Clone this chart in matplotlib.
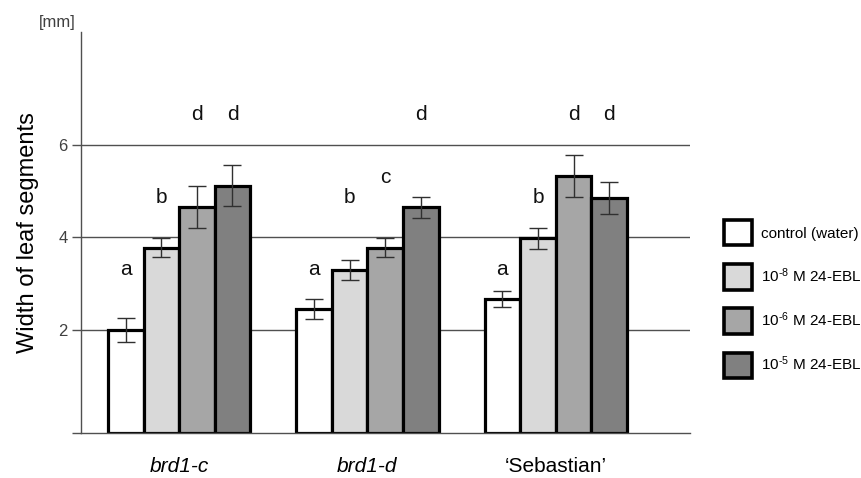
import numpy as np
import matplotlib
matplotlib.use("Agg")
import matplotlib.pyplot as plt
from matplotlib.patches import Patch

plt.rcParams["font.family"] = ["Liberation Sans", "DejaVu Sans"]
plt.rcParams["mathtext.fontset"] = "custom"
plt.rcParams["mathtext.rm"] = "Liberation Sans"
plt.rcParams["mathtext.it"] = "Liberation Sans:italic"

GRID = "#505050"

# ── data ──────────────────────────────────────────────────────────────────────
groups     = ["brd1-c", "brd1-d", "\u2018Sebastian\u2019"]
italic     = [True, True, False]
treatments = ["control (water)", "10$^{\u20108}$ M 24-EBL",
              "10$^{\u20106}$ M 24-EBL", "10$^{\u20105}$ M 24-EBL"]
colors     = ["#ffffff", "#d9d9d9", "#a6a6a6", "#808080"]

# mean width [mm] per treatment, one value per group
control = [2.00, 2.45, 2.67]
ebl_8   = [3.78, 3.30, 3.98]
ebl_6   = [4.66, 3.78, 5.33]
ebl_5   = [5.12, 4.65, 4.85]
means   = [control, ebl_8, ebl_6, ebl_5]

err_control = [0.25, 0.22, 0.17]
err_8       = [0.21, 0.22, 0.22]
err_6       = [0.45, 0.20, 0.46]
err_5       = [0.45, 0.22, 0.35]
errors      = [err_control, err_8, err_6, err_5]

# significance letters (per treatment, per group)
letters = [["a", "a", "a"],
           ["b", "b", "b"],
           ["d", "c", "d"],
           ["d", "d", "d"]]
letter_y = [[3.3, 3.3, 3.3],
            [4.86, 4.86, 4.86],
            [6.65, 5.3, 6.65],
            [6.65, 6.65, 6.65]]

Y_MIN, Y_MAX = -0.227, 8.44

# ── figure ────────────────────────────────────────────────────────────────────
fig = plt.figure(figsize=(8.62, 4.78), dpi=100)
ax = fig.add_axes([81 / 862, 45 / 478, (690 - 81) / 862, (433 - 32) / 478])

x = np.arange(len(groups))
w = 0.189
offsets = (np.arange(4) - 1.5) * w

for v in [2, 4, 6]:
    ax.axhline(v, color=GRID, lw=1.0, zorder=0)

for i in range(4):
    vals = np.array(means[i])
    ax.bar(x + offsets[i], vals - Y_MIN, bottom=Y_MIN, width=w,
           color=colors[i], edgecolor="black", linewidth=2.3, zorder=2)
    ax.errorbar(x + offsets[i], vals, yerr=errors[i], fmt="none",
                ecolor="#303030", elinewidth=1.0, capsize=6.5, capthick=1.0,
                zorder=3)
    for j in range(len(groups)):
        ax.text(x[j] + offsets[i], letter_y[i][j], letters[i][j],
                ha="center", va="center", fontsize=15, color="#111", zorder=4)

ax.set_xlim(-0.521, 2.713)
ax.set_ylim(Y_MIN, Y_MAX)

ax.set_yticks([Y_MIN, 2, 4, 6])
ax.set_yticklabels(["", "2", "4", "6"])
ax.tick_params(axis="y", direction="out", length=6.5, width=1.0,
               color=GRID, labelsize=12, labelcolor="#404040", pad=3)

ax.set_xticks(x)
ax.set_xticklabels(groups, fontsize=15)
for lab, it in zip(ax.get_xticklabels(), italic):
    if it:
        lab.set_fontstyle("italic")
ax.tick_params(axis="x", length=0, pad=17)

for side in ["top", "right"]:
    ax.spines[side].set_visible(False)
ax.spines["left"].set_color(GRID)
ax.spines["left"].set_linewidth(1.0)
ax.spines["bottom"].set_color(GRID)
ax.spines["bottom"].set_linewidth(1.0)

ax.set_ylabel("Width of leaf segments", fontsize=17, labelpad=14)
fig.text(57 / 862, 1 - 22 / 478, "[mm]", ha="center", va="center",
         fontsize=12, color="#404040")

handles = [Patch(facecolor=c, edgecolor="black", linewidth=2.6) for c in colors]
fig.legend(handles, treatments, loc="center left",
           bbox_to_anchor=(724 / 862, 1 - 299 / 478), frameon=False,
           fontsize=11, handlelength=1.83, handleheight=2.16,
           labelspacing=1.24, handletextpad=0.6, borderaxespad=0,
           borderpad=0)

fig.savefig("out.png", dpi=100)
